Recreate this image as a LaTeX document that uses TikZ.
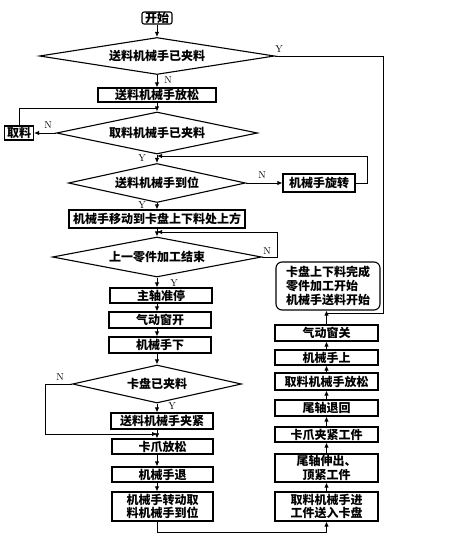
\documentclass[tikz,border=0pt]{standalone}
\usepackage{fontspec}
\newfontfamily\cjk{Noto Sans CJK SC}
\usetikzlibrary{shapes.geometric,arrows.meta,calc}
\newcommand\cjkf{\cjk\bfseries\fontsize{12}{13.8}\selectfont}
\tikzset{
  pbox/.style={draw,line width=1.1pt,font=\cjkf,align=center,inner sep=0pt},
  dec/.style={draw,diamond,line width=1.1pt,font=\cjkf,inner sep=0pt},
  flow/.style={line width=0.9pt,-{Latex[length=5pt,width=4.5pt]}},
  link/.style={line width=0.9pt},
  lab/.style={font=\fontsize{10}{10}\selectfont,inner sep=0pt}
}
\begin{document}
\begin{tikzpicture}[x=1pt,y=-1pt]
\useasboundingbox[fill=white] (0,0) rectangle (473,543);
\coordinate (ax) at (157,0);
\coordinate (rx) at (326.5,0);
% main column
\node[pbox,rounded corners=2pt,minimum width=30pt,minimum height=12pt] (start) at (157,18) {开始};
\node[dec,minimum width=235pt,minimum height=37pt,shape aspect=6.35] (d1) at (157,56) {送料机械手已夹料};
\node[pbox,minimum width=118pt,minimum height=14pt] (b1) at (157,95) {送料机械手放松};
\node[dec,minimum width=201pt,minimum height=42pt,shape aspect=4.8] (d2) at (157,133) {取料机械手已夹料};
\node[pbox,minimum width=29pt,minimum height=14pt] (qu) at (19,133) {取料};
\node[dec,minimum width=177pt,minimum height=39pt,shape aspect=4.5] (d3) at (157,183) {送料机械手到位};
\node[pbox,minimum width=72pt,minimum height=18pt] (rot) at (319,183) {机械手旋转};
\node[pbox,minimum width=176pt,minimum height=18pt] (mv) at (157,219) {机械手移动到卡盘上下料处上方};
\node[dec,minimum width=209pt,minimum height=40pt,shape aspect=5.2] (d4) at (157,257) {上一零件加工结束};
\node[pbox,minimum width=102pt,minimum height=15pt] (b2) at (161,295.5) {主轴准停};
\node[pbox,minimum width=102pt,minimum height=16pt] (b3) at (160,320) {气动窗开};
\node[pbox,minimum width=102pt,minimum height=16pt] (b4) at (160,345) {机械手下};
\node[dec,minimum width=169pt,minimum height=38pt,shape aspect=4.45] (d5) at (157,384) {卡盘已夹料};
\node[pbox,minimum width=102pt,minimum height=16pt] (b5) at (162,421) {送料机械手夹紧};
\node[pbox,minimum width=101pt,minimum height=15pt] (b6) at (162.5,446.5) {卡爪放松};
\node[pbox,minimum width=101pt,minimum height=15pt] (b7) at (162.5,474.5) {机械手退};
\node[pbox,minimum width=101pt,minimum height=29pt] (b8) at (162.5,506.5) {机械手转动取\\料机械手到位};
% right column
\node[pbox,minimum width=103pt,minimum height=29pt] (r1) at (326.5,506.5) {取料机械手进\\工件送入卡盘};
\node[pbox,minimum width=103pt,minimum height=28pt] (r2) at (326.5,468) {尾轴伸出、\\顶紧工件};
\node[pbox,minimum width=103pt,minimum height=15pt] (r3) at (326.5,434.5) {卡爪夹紧工件};
\node[pbox,minimum width=103pt,minimum height=16pt] (r4) at (326.5,408) {尾轴退回};
\node[pbox,minimum width=103pt,minimum height=17pt] (r5) at (326.5,381.5) {取料机械手放松};
\node[pbox,minimum width=103pt,minimum height=15pt] (r6) at (326.5,357.5) {机械手上};
\node[pbox,minimum width=103pt,minimum height=16pt] (r7) at (326.5,333) {气动窗关};
\node[pbox,rounded corners=6pt,minimum width=104pt,minimum height=48pt,align=left] (rb) at (328,286) {卡盘上下料完成\\零件加工开始\\机械手送料开始};
% helper coordinates
\coordinate (c1) at (383,313);
\coordinate (j2) at (157,108);
\coordinate (j3) at (157,156);
\coordinate (c3) at (367,0);
\coordinate (j4) at (157,232);
\coordinate (c4) at (277,0);
\coordinate (j5) at (157,434);
\coordinate (c5) at (45,0);
\coordinate (c6) at (0,532);
% connectors
\draw[flow] (start) -- (d1);
\draw[link] (d1.east) -| (c1) -- (c1 -| rx);
\draw[flow] (d1) -- (b1);
\draw[flow] (b1) -- (d2);
\draw[flow] (d2.west) -- (qu.east);
\draw[link] (qu.north) |- (j2);
\draw[flow] (d2) -- (d3);
\draw[flow] (d3.east) -- (rot.west);
\draw[flow] (rot.east) -- (rot.east -| c3) |- (j3);
\draw[flow] (d3) -- (mv);
\draw[flow] (mv) -- (d4);
\draw[flow] (d4.east) -- (d4.east -| c4) |- (j4);
\draw[flow] (d4.south) -- (b2.north -| ax);
\draw[flow] (b2.south -| ax) -- (b3.north -| ax);
\draw[flow] (b3.south -| ax) -- (b4.north -| ax);
\draw[flow] (b4.south -| ax) -- (d5.north);
\draw[flow] (d5.south) -- (b5.north -| ax);
\draw[flow] (d5.west) -- (d5.west -| c5) |- (j5);
\draw[flow] (b5.south -| ax) -- (b6.north -| ax);
\draw[flow] (b6.south -| ax) -- (b7.north -| ax);
\draw[flow] (b7.south -| ax) -- (b8.north -| ax);
\draw[flow] (b8.south -| ax) |- (c6 -| rx) -- (r1.south -| rx);
\draw[flow] (r1.north -| rx) -- (r2.south -| rx);
\draw[flow] (r2.north -| rx) -- (r3.south -| rx);
\draw[flow] (r3.north -| rx) -- (r4.south -| rx);
\draw[flow] (r4.north -| rx) -- (r5.south -| rx);
\draw[flow] (r5.north -| rx) -- (r6.south -| rx);
\draw[flow] (r6.north -| rx) -- (r7.south -| rx);
\draw[flow] (r7.north -| rx) -- (rb.south -| rx);
% labels
\node[lab] (ly1) at (279,49) {Y};
\node[lab] (ln1) at (168,80) {N};
\node[lab] (ln2) at (48,125) {N};
\node[lab] (ly2) at (142,158) {Y};
\node[lab] (ln3) at (262,175) {N};
\node[lab] (ly3) at (142,205) {Y};
\node[lab] (ln4) at (267,251) {N};
\node[lab] (ly4) at (174,283) {Y};
\node[lab] (ln5) at (60,377) {N};
\node[lab] (ly5) at (172,406) {Y};
\end{tikzpicture}
\end{document}
